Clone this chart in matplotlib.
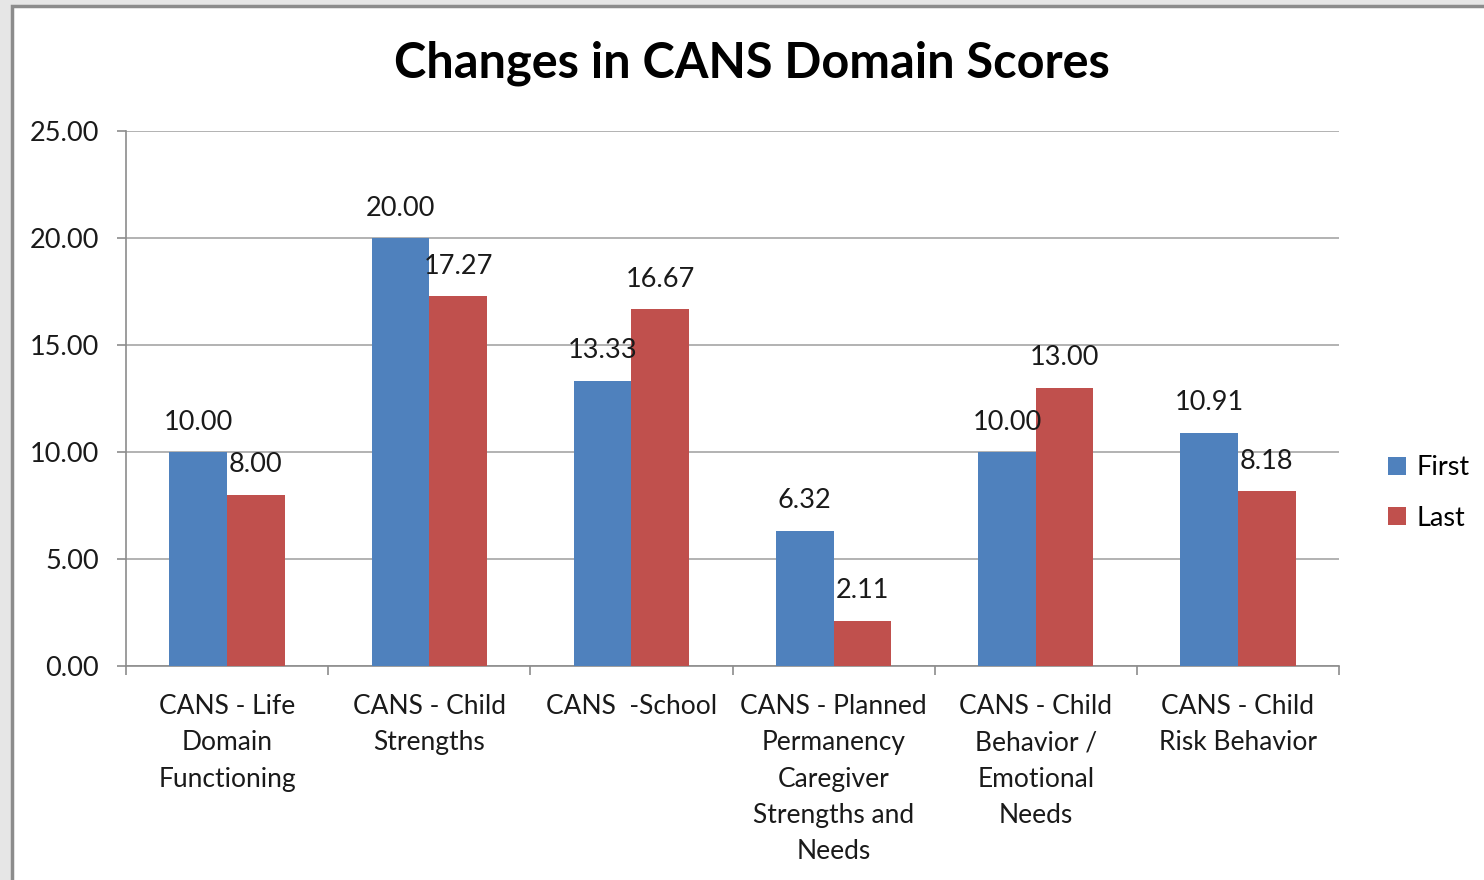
import matplotlib
matplotlib.use("Agg")
import matplotlib.pyplot as plt
from matplotlib.patches import Rectangle
import numpy as np

categories = ["CANS - Life\nDomain\nFunctioning",
              "CANS - Child\nStrengths",
              "CANS  -School",
              "CANS - Planned\nPermanency\nCaregiver\nStrengths and\nNeeds",
              "CANS - Child\nBehavior /\nEmotional\nNeeds",
              "CANS - Child\nRisk Behavior"]
first = [10.00, 20.00, 13.33, 6.32, 10.00, 10.91]
last = [8.00, 17.27, 16.67, 2.11, 13.00, 8.18]
series_names = ["First", "Last"]
colors = ["#4F81BD", "#C0504D"]
yticks = [0, 5, 10, 15, 20, 25]

plt.rcParams['font.family'] = ['Lato', 'DejaVu Sans']

fig = plt.figure(figsize=(14.84, 8.80), dpi=100, facecolor="#e6e6e6")
# white chart area with gray border
fig.patches.append(Rectangle((12/1484, -0.05), 1.1, 1 - 6/880 + 0.05,
                             transform=fig.transFigure, facecolor="white",
                             edgecolor="#8c8c8c", linewidth=2.5, zorder=-5))

ax = fig.add_axes([126/1484, 1 - 666/880, (1339 - 126)/1484, (666 - 131)/880])
ax.set_zorder(2)
ax.set_facecolor("white")

x = np.arange(len(categories))
w = 0.285
for i, (vals, name, c) in enumerate(zip([first, last], series_names, colors)):
    pos = x + (i - 0.5) * w
    bars = ax.bar(pos, vals, width=w, color=c, label=name, zorder=3)
    for xp, v in zip(pos, vals):
        ax.annotate(f"{v:.2f}", (xp, v), xytext=(0, 21.5), textcoords="offset points",
                    ha="center", va="center", fontsize=19.5, color="#1a1a1a", zorder=4)

ax.set_xlim(-0.5, len(categories) - 0.5)
ax.set_ylim(0, 25)
ax.set_yticks(yticks)
ax.set_yticklabels([f"{t:.2f}" for t in yticks], fontsize=19.5, color="#1a1a1a")
ax.yaxis.grid(True, color="#a6a6a6", linewidth=1.2, zorder=0)
ax.set_axisbelow(True)

ax.set_xticks(np.arange(len(categories) + 1) - 0.5)
ax.set_xticklabels([])
ax.set_xticks(x, minor=True)
ax.set_xticklabels(categories, minor=True, fontsize=19, color="#1a1a1a", linespacing=1.57, va="top")
ax.tick_params(axis="x", which="minor", length=0, pad=20)
ax.tick_params(axis="x", which="major", length=6.5, color="#8c8c8c", width=1.2)
ax.tick_params(axis="y", length=6.5, color="#8c8c8c", width=1.2, pad=13)

for s in ["top", "right"]:
    ax.spines[s].set_visible(False)
for s in ["left", "bottom"]:
    ax.spines[s].set_color("#8c8c8c")
    ax.spines[s].set_linewidth(1.2)

fig.text(752/1484, 1 - 63/880, "Changes in CANS Domain Scores", ha="center", va="center",
         fontsize=35, fontweight="bold", color="black")

leg = fig.legend(loc="center left", bbox_to_anchor=(1364/1484, 1 - 493/880), frameon=False,
                 fontsize=19.5, handlelength=0.65, handleheight=0.65, handletextpad=0.4,
                 labelspacing=0.95)

fig.savefig("out.png", dpi=100, facecolor=fig.get_facecolor())
